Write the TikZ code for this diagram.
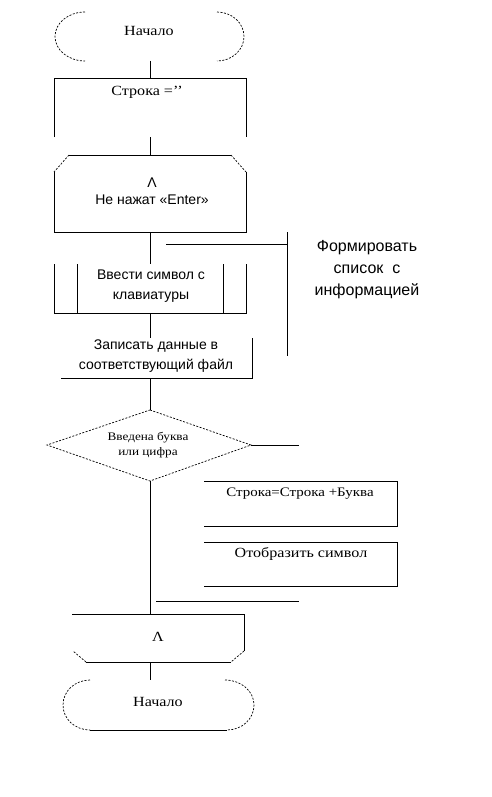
\documentclass[tikz,border=0pt]{standalone}
\usepackage{fontspec}
\setmainfont{Liberation Serif}[FakeStretch=1.15]
\newfontfamily\sansf{Liberation Sans}
\begin{document}
\begin{tikzpicture}[x=1pt,y=-1pt,
  ln/.style={line width=0.8pt},
  dsh/.style={line width=0.7pt,dash pattern=on 2pt off 1.5pt},
  txt/.style={inner sep=0pt,align=center},
  serifA/.style={font=\fontsize{14}{17}\selectfont},
  serifB/.style={font=\fontsize{13}{17}\selectfont},
  serifS/.style={font=\fontsize{11.5}{15}\selectfont},
  sansA/.style={font=\sansf\fontsize{14}{20}\selectfont},
  sansB/.style={font=\sansf\fontsize{16}{22}\selectfont}]
\useasboundingbox[fill=white] (0,0) rectangle (492,797);

% ---- top terminator
\node[txt,serifA] (start) at (149,31) {Начало};
\draw[dsh] (85,12) .. controls (68.4,12) and (55,23) .. (55,36.5) .. controls (55,50) and (68.4,61) .. (85,61);
\draw[dsh] (217,12) .. controls (232,12) and (244,23) .. (244,36.5) .. controls (244,50) and (232,61) .. (217,61);
\coordinate (startB) at (150,61);

% ---- process Строка =''
\coordinate (p1T) at (150,78);
\draw[ln] (54,137) -- (54,78) -- (246,78) -- (246,137);
\node[txt,serifA] (p1) at (147,92) {Строка =’’};
\coordinate (p1B) at (150,137);
\draw[ln] (startB) -- (p1T);

% ---- loop start
\coordinate (l1T) at (150,155);
\draw[ln] (69,155) -- (231,155);
\draw[dsh] (69,155) -- (54,172);
\draw[dsh] (231,155) -- (246,172);
\draw[ln] (54,172) -- (54,232) -- (246,232) -- (246,172);
\node[txt,font=\sansf\fontsize{14}{17}\selectfont] (l1) at (152,191.5) {Λ\\Не нажат «Enter»};
\coordinate (l1B) at (150,232);
\draw[ln] (p1B) -- (l1T);

% ---- predefined process
\coordinate (p2T) at (150,264);
\draw[ln] (54,264) -- (54,313) -- (246,313) -- (246,264);
\draw[ln] (77,264) -- (77,313);
\draw[ln] (223,264) -- (223,313);
\node[txt,sansA] (p2) at (151,286.5) {Ввести символ с\\клавиатуры};
\coordinate (p2B) at (150,313);
\draw[ln] (l1B) -- (p2T);

% ---- process write
\coordinate (p3T) at (150,338);
\draw[ln] (252,338) -- (252,378) -- (61,378);
\node[txt,sansA] (p3) at (156,356) {Записать данные в\\соответствующий файл};
\coordinate (p3B) at (150,378);
\draw[ln] (p2B) -- (p3T);

% ---- comment
\coordinate (cmA) at (166,244);
\coordinate (cmB) at (287,244);
\draw[ln] (cmA) -- (cmB);
\draw[ln] (287,232) -- (287,356);
\node[txt,sansB] (cm) at (367,270) {Формировать\\список \ с\\информацией};

% ---- decision
\coordinate (dT) at (150,410);
\coordinate (dL) at (47,445);
\coordinate (dR) at (251,445);
\coordinate (dB) at (150,481);
\draw[dsh] (dT) -- (dR) -- (dB) -- (dL) -- cycle;
\node[txt,serifS] (d) at (148,445.5) {Введена буква\\или цифра};
\draw[ln] (p3B) -- (dT);
\coordinate (dRe) at (299,445);
\draw[ln] (dR) -- (dRe);

% ---- right boxes
\draw[ln] (204,481) -- (397,481) -- (397,526) -- (204,526);
\node[txt,serifB] (p4) at (300,494) {Строка=Строка +Буква};
\draw[ln] (204,542) -- (397,542) -- (397,586) -- (204,586);
\node[txt,serifA] (p5) at (301,554) {Отобразить символ};
\coordinate (jA) at (156,601);
\coordinate (jB) at (299,601);
\draw[ln] (jA) -- (jB);

% ---- loop end
\coordinate (l2T) at (150,614);
\draw[ln] (dB) -- (l2T);
\draw[ln] (72,614) -- (244,614) -- (244,651);
\draw[dsh] (244,651) -- (231,662);
\draw[ln] (231,662) -- (86,662);
\draw[dsh] (86,662) -- (73,651);
\node[txt,serifA] (l2) at (158,637) {Λ};
\coordinate (l2B) at (150,662);

% ---- end terminator
\coordinate (endT) at (150,680);
\draw[ln] (l2B) -- (endT);
\draw[dsh] (90,680) .. controls (75,680) and (63,691) .. (63,705) .. controls (63,719) and (75,730) .. (90,730);
\draw[dsh] (225,680) .. controls (241,680) and (254,691) .. (254,705) .. controls (254,719) and (242,730) .. (227,730);
\draw[ln] (90,730) -- (227,730);
\node[txt,serifA] (end) at (158,702) {Начало};
\end{tikzpicture}
\end{document}
